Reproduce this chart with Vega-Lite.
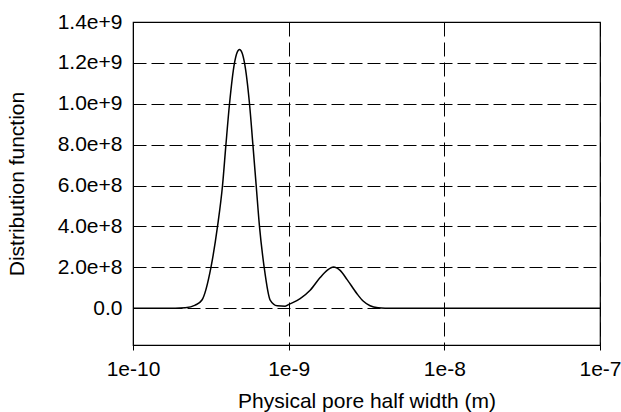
{
  "$schema": "https://vega.github.io/schema/vega-lite/v6.json",
  "width": 467,
  "height": 323,
  "autosize": {"type": "none"},
  "padding": {"left": 133, "top": 22, "right": 21, "bottom": 67},
  "background": "white",
  "config": {
    "font": "Liberation Sans",
    "view": {"stroke": "black", "strokeWidth": 1.2},
    "axis": {
      "labelFont": "Liberation Sans",
      "titleFont": "Liberation Sans",
      "titleFontWeight": "normal",
      "labelColor": "black",
      "titleColor": "black",
      "domainColor": "black",
      "tickColor": "black",
      "gridColor": "black",
      "gridOpacity": 1,
      "gridWidth": 1,
      "gridDash": [13, 5]
    }
  },
  "data": {
    "values": [
      {"x": 1e-10, "f": 0},
      {"x": 1.868e-10, "f": 0},
      {"x": 2.166e-10, "f": 2e6},
      {"x": 2.511e-10, "f": 1.5e7},
      {"x": 2.773e-10, "f": 4e7},
      {"x": 3.168e-10, "f": 2e8},
      {"x": 3.491e-10, "f": 4e8},
      {"x": 3.759e-10, "f": 6e8},
      {"x": 3.953e-10, "f": 8e8},
      {"x": 4.169e-10, "f": 1.0e9},
      {"x": 4.488e-10, "f": 1.2e9},
      {"x": 4.657e-10, "f": 1.25e9},
      {"x": 4.833e-10, "f": 1.266e9},
      {"x": 5.015e-10, "f": 1.25e9},
      {"x": 5.204e-10, "f": 1.2e9},
      {"x": 5.603e-10, "f": 1.0e9},
      {"x": 5.891e-10, "f": 8e8},
      {"x": 6.185e-10, "f": 6e8},
      {"x": 6.494e-10, "f": 4e8},
      {"x": 6.961e-10, "f": 2e8},
      {"x": 7.606e-10, "f": 4e7},
      {"x": 8.437e-10, "f": 1.2e7},
      {"x": 9.495e-10, "f": 1.0e7},
      {"x": 1.012e-9, "f": 2e7},
      {"x": 1.185e-9, "f": 4.7e7},
      {"x": 1.374e-9, "f": 8.8e7},
      {"x": 1.593e-9, "f": 1.5e8},
      {"x": 1.766e-9, "f": 1.85e8},
      {"x": 1.939e-9, "f": 2.02e8},
      {"x": 2.141e-9, "f": 1.85e8},
      {"x": 2.374e-9, "f": 1.4e8},
      {"x": 2.74e-9, "f": 7.2e7},
      {"x": 3.008e-9, "f": 3.5e7},
      {"x": 3.335e-9, "f": 1.2e7},
      {"x": 3.754e-9, "f": 2e6},
      {"x": 4.163e-9, "f": 0},
      {"x": 1e-7, "f": 0}
    ]
  },
  "mark": {"type": "line", "color": "black", "strokeWidth": 1.5, "interpolate": "monotone", "clip": true},
  "encoding": {
    "x": {
      "field": "x",
      "type": "quantitative",
      "scale": {"type": "log", "domain": [1e-10, 1e-7], "nice": false},
      "axis": {
        "title": "Physical pore half width (m)",
        "values": [1e-10, 1e-9, 1e-8, 1e-7],
        "labelExpr": "'1e' + round(log(datum.value) / LN10)",
        "labelFontSize": 21,
        "titleFontSize": 21,
        "tickSize": 5,
        "labelPadding": 8,
        "titlePadding": 11,
        "grid": true,
        "gridDash": [14, 6],
        "labelFlush": false
      }
    },
    "y": {
      "field": "f",
      "type": "quantitative",
      "scale": {"domain": [-1.8e8, 1.4e9], "nice": false, "zero": false},
      "axis": {
        "title": "Distribution function",
        "values": [0, 2e8, 4e8, 6e8, 8e8, 1e9, 1.2e9, 1.4e9],
        "labelExpr": "datum.value == 0 ? '0.0' : format(datum.value, '.1e')",
        "labelFontSize": 21,
        "titleFontSize": 21,
        "ticks": false,
        "labelPadding": 11,
        "titlePadding": 30,
        "grid": true,
        "labelFlush": false
      }
    }
  }
}
